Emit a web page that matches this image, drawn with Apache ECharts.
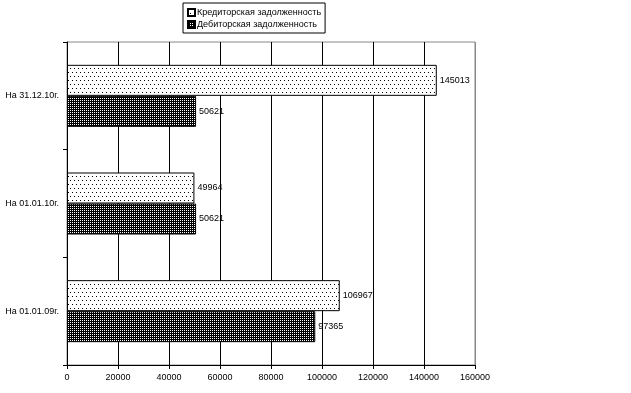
<!DOCTYPE html>
<html><head><meta charset="utf-8">
<script src="https://cdn.jsdelivr.net/npm/echarts@6/dist/echarts.min.js"></script>
<style>html,body{margin:0;padding:0;background:#fff}#c{width:631px;height:393px}</style>
</head><body><div id="c"></div>
<script>
const categories = ['На 01.01.09г.', 'На 01.01.10г.', 'На 31.12.10г.'];
const creditor = [106967, 49964, 145013];
const debitor = [97365, 50621, 50621];
const xTicks = [0, 20000, 40000, 60000, 80000, 100000, 120000, 140000, 160000];
const nameCred = 'Кредиторская задолженность';
const nameDeb = 'Дебиторская задолженность';

function pat(w, h, bg, fg, pts) {
  const c = document.createElement('canvas');
  c.width = w; c.height = h;
  const g = c.getContext('2d');
  g.fillStyle = bg; g.fillRect(0, 0, w, h);
  g.fillStyle = fg;
  pts.forEach(p => g.fillRect(p[0], p[1], 1, 1));
  return c;
}
const credPat = pat(4, 8, '#ffffff', '#000000', [[0,0],[2,4]]);
const debPat = pat(2, 2, '#000000', '#ffffff', [[0,0]]);

const font = 'Liberation Sans, Arial, sans-serif';
const chart = echarts.init(document.getElementById('c'), null, {renderer: 'canvas'});
chart.setOption({
  animation: false,
  textStyle: {fontFamily: font},
  legend: {
    orient: 'vertical', left: 183, top: 3,
    data: [nameCred, nameDeb],
    borderColor: '#000', borderWidth: 1, padding: [5, 4, 4, 4],
    itemWidth: 7, itemHeight: 7, itemGap: 3,
    textStyle: {fontSize: 9, color: '#000', fontFamily: font, padding: [0,0,0,-3]},
    icon: 'rect'
  },
  grid: {left: 67, right: 156, top: 42, bottom: 28, containLabel: false, show: true, borderColor: '#888', borderWidth: 1, backgroundColor: 'transparent'},
  xAxis: {
    type: 'value', min: xTicks[0], max: xTicks[xTicks.length - 1], interval: 20000,
    axisLine: {show: true, lineStyle: {color: '#000'}},
    axisTick: {show: true, length: 4, lineStyle: {color: '#000'}},
    axisLabel: {fontSize: 9, color: '#000', fontFamily: font, margin: 8, formatter: v => String(v)},
    splitLine: {show: true, lineStyle: {color: ['#000','#000','#000','#000','#000','#000','#000','#000','#888'], width: 1}}
  },
  yAxis: {
    type: 'category', data: categories,
    axisLine: {show: true, lineStyle: {color: '#000'}},
    axisTick: {show: true, length: 4, lineStyle: {color: '#000'}},
    axisLabel: {fontSize: 9, color: '#000', fontFamily: font, margin: 8}
  },
  series: [
    {
      name: nameCred, type: 'bar', data: creditor, barWidth: 31, barGap: '0%',
      itemStyle: {color: {image: credPat, repeat: 'repeat'}, borderColor: '#000', borderWidth: 1},
      label: {show: true, position: 'right', distance: 3, fontSize: 9, color: '#000', fontFamily: font}
    },
    {
      name: nameDeb, type: 'bar', data: debitor, barWidth: 31, barGap: '0%',
      itemStyle: {color: {image: debPat, repeat: 'repeat'}, borderColor: '#000', borderWidth: 1},
      label: {show: true, position: 'right', distance: 3, fontSize: 9, color: '#000', fontFamily: font}
    }
  ]
});
</script></body></html>
